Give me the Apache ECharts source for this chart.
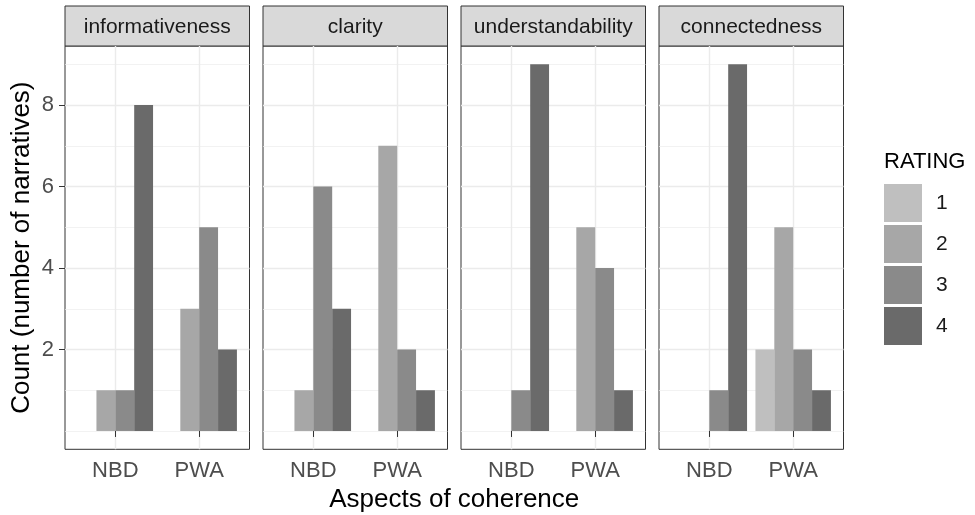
<!DOCTYPE html>
<html>
<head>
<meta charset="utf-8">
<script src="https://cdn.jsdelivr.net/npm/echarts@6/dist/echarts.min.js"></script>
<style>
  html, body { margin: 0; padding: 0; background: #fff; }
  #main { width: 975px; height: 515px; }
</style>
</head>
<body>
<div id="main"></div>
<script>
var aspects = ['informativeness', 'clarity', 'understandability', 'connectedness'];
var groups = ['NBD', 'PWA'];
var ratings = ['1', '2', '3', '4'];
// counts per aspect: [NBD, PWA]
var rating1 = [[null, null], [null, null], [null, null], [null, 2]];
var rating2 = [[1, 3], [1, 7], [null, 5], [null, 5]];
var rating3 = [[1, 5], [6, 2], [1, 4], [1, 2]];
var rating4 = [[8, 2], [3, 1], [9, 1], [9, 1]];
var majorTicks = [2, 4, 6, 8];
var minorTicks = [0, 1, 3, 5, 7, 9];

var byRating = [rating1, rating2, rating3, rating4];
var fills = ['#bfbfbf', '#a7a7a7', '#8a8a8a', '#6a6a6a'];
var font = '"Liberation Sans", Arial, sans-serif';

// panel layout
var panelLeft = 65, panelStep = 198, panelW = 184.5;
var panelTop = 46, panelH = 403.3, stripTop = 6;

var grids = [], xAxes = [], yAxes = [], series = [], graphics = [];

aspects.forEach(function (name, i) {
    var left = panelLeft + panelStep * i;
    grids.push({
        left: left, top: panelTop, width: panelW, height: panelH,
        show: true, backgroundColor: '#fff', borderColor: '#333', borderWidth: 1
    });
    xAxes.push({
        type: 'value', gridIndex: i, min: 0.4, max: 2.6,
        axisLine: { show: false },
        axisTick: { show: true, customValues: [1, 2], length: 6, lineStyle: { color: '#333', width: 1 } },
        axisLabel: {
            customValues: [1, 2], margin: 11, fontSize: 22, color: '#4d4d4d', fontFamily: font,
            formatter: function (v) { return groups[Math.round(v) - 1]; }
        },
        splitLine: { show: true, lineStyle: { color: '#ebebeb', width: 1.4 } }
    });
    // major y lines (+ labels on first panel)
    yAxes.push({
        type: 'value', gridIndex: i, min: -0.45, max: 9.45, position: 'left',
        axisLine: { show: false },
        axisTick: { show: i === 0, customValues: majorTicks, length: 6, lineStyle: { color: '#333', width: 1 } },
        axisLabel: { show: i === 0, customValues: majorTicks, margin: 11, fontSize: 22, color: '#4d4d4d', fontFamily: font },
        splitLine: { show: true, lineStyle: { color: '#ebebeb', width: 1.4 } }
    });
    // minor y lines
    yAxes.push({
        type: 'value', gridIndex: i, min: -0.45, max: 9.45, position: 'left',
        axisLine: { show: false },
        axisTick: { show: false, customValues: minorTicks },
        axisLabel: { show: false, customValues: minorTicks },
        splitLine: { show: true, lineStyle: { color: '#ededed', width: 0.7 } }
    });

    ratings.forEach(function (r, k) {
        var data = [];
        byRating[k][i].forEach(function (v, g) {
            if (v !== null) data.push([g + 1, v]);
        });
        series.push({
            name: r, type: 'bar', xAxisIndex: i, yAxisIndex: 2 * i,
            barGap: 0, barCategoryGap: '10%',
            itemStyle: { color: fills[k] },
            silent: true,
            data: data
        });
    });

    // facet strip
    graphics.push({
        type: 'rect',
        shape: { x: left, y: stripTop, width: panelW, height: panelTop - stripTop },
        style: { fill: '#d9d9d9', stroke: '#333', lineWidth: 1 }
    });
    graphics.push({
        type: 'text', x: left + panelW / 2, y: (stripTop + panelTop) / 2 + 1,
        style: { text: name, fill: '#1a1a1a', font: '21px ' + font, align: 'center', verticalAlign: 'middle' }
    });
});

var plotRight = panelLeft + panelStep * 3 + panelW;

graphics.push({
    type: 'text', x: (panelLeft + plotRight) / 2, y: 500,
    style: { text: 'Aspects of coherence', fill: '#000', font: '26px ' + font, align: 'center', verticalAlign: 'middle' }
});
graphics.push({
    type: 'text', x: 22, y: panelTop + panelH / 2, rotation: Math.PI / 2,
    style: { text: 'Count (number of narratives)', fill: '#000', font: '26px ' + font, align: 'center', verticalAlign: 'middle' }
});
graphics.push({
    type: 'text', x: 884, y: 162,
    style: { text: 'RATING', fill: '#000', font: '22px ' + font, align: 'left', verticalAlign: 'middle' }
});

var chart = echarts.init(document.getElementById('main'));
chart.setOption({
    animation: false,
    grid: grids,
    xAxis: xAxes,
    yAxis: yAxes,
    series: series,
    legend: {
        data: ratings, orient: 'vertical', left: 884, top: 184,
        padding: 0, itemWidth: 38, itemHeight: 38, itemGap: 3, icon: 'rect',
        selectedMode: false,
        textStyle: { fontSize: 21, color: '#1a1a1a', fontFamily: font, padding: [0, 0, 0, 9] }
    },
    graphic: graphics
});
</script>
</body>
</html>
